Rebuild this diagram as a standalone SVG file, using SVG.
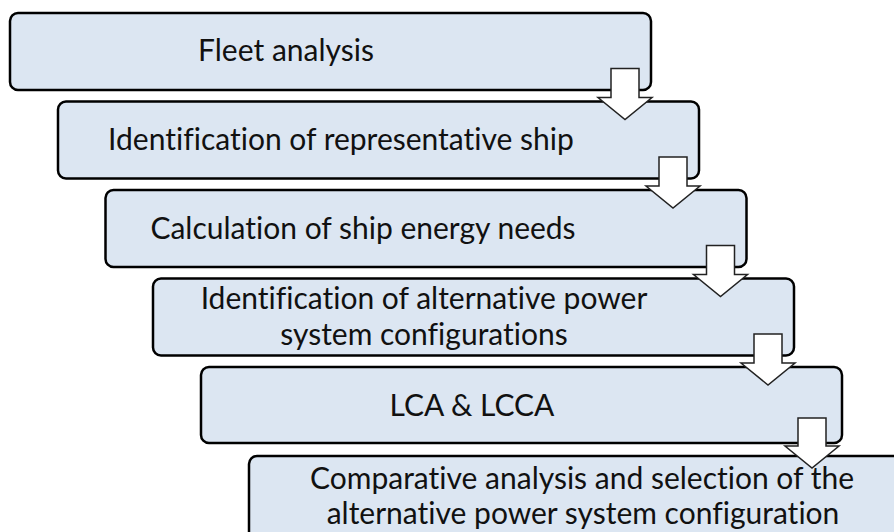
<svg xmlns="http://www.w3.org/2000/svg" width="894" height="532" viewBox="0 0 894 532">
<style>
.box{fill:#dce6f2;stroke:#000;stroke-width:2.5}
.arr{fill:#fff;stroke:#222;stroke-width:1.5;stroke-linejoin:miter}
text{font-family:Lato,"Liberation Sans",sans-serif;font-size:30px;fill:#111;text-anchor:middle;font-variant-ligatures:none;font-feature-settings:"liga" 0}
</style>
<rect width="894" height="532" fill="#fff"/>
<g id="n1"><rect class="box" x="10" y="13" width="641" height="77" rx="8"/><text x="286" y="61">Fleet analysis</text></g>
<g id="n2"><rect class="box" x="58" y="101.5" width="641" height="77" rx="8"/><text x="341" y="150">Identification of representative ship</text></g>
<g id="n3"><rect class="box" x="105.5" y="190" width="641" height="77" rx="8"/><text x="363" y="238.5">Calculation of ship energy needs</text></g>
<g id="n4"><rect class="box" x="153" y="278.5" width="641" height="77" rx="8"/><text x="424" y="309">Identification of alternative power</text><text x="424" y="345">system configurations</text></g>
<g id="n5"><rect class="box" x="201" y="367" width="641" height="76" rx="8"/><text x="472" y="415.5">LCA &amp; LCCA</text></g>
<g id="n6"><rect class="box" x="249" y="456" width="700" height="100" rx="8"/><text x="582" y="489">Comparative analysis and selection of the</text><text x="583" y="524">alternative power system configuration</text></g>
<g id="connectors">
<path class="arr" d="M611,68.5H639V97.5H652L625,119.5L598,97.5H611Z"/>
<path class="arr" d="M659,157H687V186H700L673,208L646,186H659Z"/>
<path class="arr" d="M706.5,245.5H734.5V274.5H747.5L720.5,296.5L693.5,274.5H706.5Z"/>
<path class="arr" d="M754,334H782V363H795L768,385L741,363H754Z"/>
<path class="arr" d="M798,418H826V446H839L812,468L785,446H798Z"/>
</g>
</svg>
